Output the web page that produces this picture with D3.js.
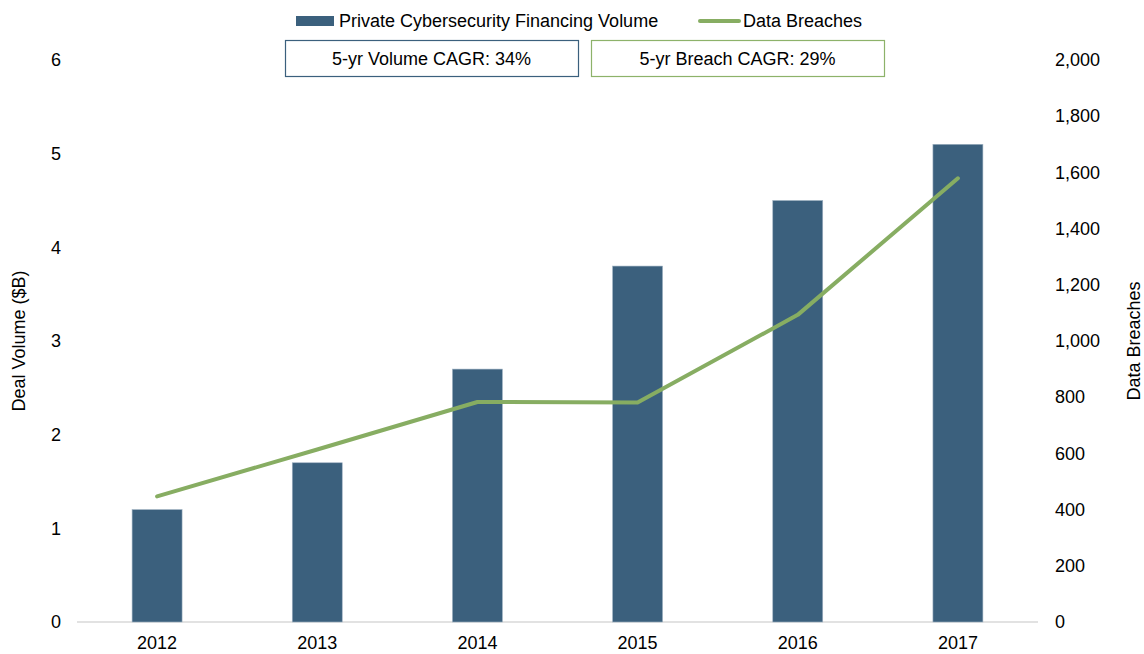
<!DOCTYPE html>
<html>
<head>
<meta charset="utf-8">
<script src="https://cdn.jsdelivr.net/npm/d3@7"></script>
<style>
  body { margin: 0; background: #fff; }
  svg text { font-family: "Liberation Sans", Arial, sans-serif; fill: #000; }
</style>
</head>
<body>
<svg id="chart" width="1144" height="654"></svg>
<script>
// data
var years = ["2012", "2013", "2014", "2015", "2016", "2017"];
var volume = [1.2, 1.7, 2.7, 3.8, 4.5, 5.1];          // $B
var breaches = [447, 614, 783, 781, 1093, 1579];
var leftTicks = [0, 1, 2, 3, 4, 5, 6];
var rightTicks = [0, 200, 400, 600, 800, 1000, 1200, 1400, 1600, 1800, 2000];
var cagrLabels = ["5-yr Volume CAGR: 34%", "5-yr Breach CAGR: 29%"];

var barColor = "#3b607d";
var lineColor = "#87ad62";
var fontSize = "18px";
var fontFam = "'Liberation Sans', Arial, sans-serif";

var svg = d3.select("#chart");

var x = d3.scaleBand()
    .domain(years)
    .range([77, 1038]);
var yL = d3.scaleLinear().domain([0, 6]).range([622, 60]);
var yR = d3.scaleLinear().domain([0, 2000]).range([622, 60]);

// baseline
svg.append("line")
    .attr("x1", 77).attr("x2", 1038)
    .attr("y1", yL(0)).attr("y2", yL(0))
    .attr("stroke", "#d9d9d9")
    .attr("stroke-width", 1.5);

// bars
var bw = x.bandwidth() * 0.312;
svg.append("g")
    .selectAll("rect")
    .data(volume)
    .enter()
    .append("rect")
    .attr("x", function(d, i) { return x(years[i]) + x.bandwidth() / 2 - bw / 2; })
    .attr("y", function(d) { return yL(d); })
    .attr("width", bw)
    .attr("height", function(d) { return yL(0) - yL(d); })
    .attr("fill", barColor)
    .attr("stroke", "#9fb2c2")
    .attr("stroke-width", 0.6);

// breaches line
var line = d3.line()
    .x(function(d, i) { return x(years[i]) + x.bandwidth() / 2; })
    .y(function(d) { return yR(d); });
svg.append("path")
    .datum(breaches)
    .attr("d", line)
    .attr("fill", "none")
    .attr("stroke", lineColor)
    .attr("stroke-width", 4)
    .attr("stroke-linecap", "round")
    .attr("stroke-linejoin", "round");

// x axis labels
var gx = svg.append("g")
    .attr("transform", "translate(0," + yL(0) + ")")
    .call(d3.axisBottom(x).tickSize(0).tickPadding(14));
gx.select(".domain").remove();
gx.selectAll("text").style("font-size", fontSize).style("font-family", fontFam);

// left axis
var gl = svg.append("g")
    .attr("transform", "translate(61,0)")
    .call(d3.axisLeft(yL).tickValues(leftTicks).tickFormat(d3.format("d")).tickSize(0).tickPadding(0));
gl.select(".domain").remove();
gl.selectAll("text").style("font-size", fontSize).style("font-family", fontFam);

// right axis
var gr = svg.append("g")
    .attr("transform", "translate(1055,0)")
    .call(d3.axisRight(yR).tickValues(rightTicks).tickFormat(d3.format(",")).tickSize(0).tickPadding(0));
gr.select(".domain").remove();
gr.selectAll("text").style("font-size", fontSize).style("font-family", fontFam);

// axis titles
svg.append("text")
    .attr("transform", "translate(25,341) rotate(-90)")
    .attr("text-anchor", "middle")
    .style("font-size", fontSize)
    .text("Deal Volume ($B)");
svg.append("text")
    .attr("transform", "translate(1140,341) rotate(-90)")
    .attr("text-anchor", "middle")
    .style("font-size", fontSize)
    .text("Data Breaches");

// legend
svg.append("rect")
    .attr("x", 296).attr("y", 16)
    .attr("width", 38).attr("height", 10)
    .attr("fill", barColor);
svg.append("text")
    .attr("x", 339).attr("y", 27)
    .style("font-size", fontSize)
    .text("Private Cybersecurity Financing Volume");
svg.append("line")
    .attr("x1", 700).attr("x2", 739)
    .attr("y1", 21).attr("y2", 21)
    .attr("stroke", lineColor)
    .attr("stroke-width", 4)
    .attr("stroke-linecap", "round");
svg.append("text")
    .attr("x", 743).attr("y", 27)
    .style("font-size", fontSize)
    .text("Data Breaches");

// CAGR boxes
var boxes = [
    { x: 285, color: barColor },
    { x: 591, color: "#8db26a" }
];
boxes.forEach(function(b, i) {
    svg.append("rect")
        .attr("x", b.x + 0.5).attr("y", 40.5)
        .attr("width", 293).attr("height", 36)
        .attr("fill", "#fff")
        .attr("stroke", b.color)
        .attr("stroke-width", 1.2);
    svg.append("text")
        .attr("x", b.x + 146.5).attr("y", 58.5)
        .attr("dy", "0.35em")
        .attr("text-anchor", "middle")
        .style("font-size", fontSize)
        .text(cagrLabels[i]);
});
</script>
</body>
</html>
